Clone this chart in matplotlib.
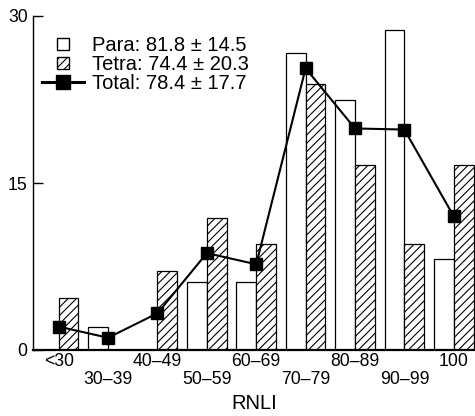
import numpy as np
import matplotlib
matplotlib.use("Agg")
import matplotlib.pyplot as plt
import matplotlib.patches as mpatches
from matplotlib.lines import Line2D
from matplotlib.legend_handler import HandlerPatch

plt.rcParams['font.family'] = ['Liberation Sans', 'DejaVu Sans']
plt.rcParams['hatch.linewidth'] = 0.8

categories = ['<30', '30–39', '40–49', '50–59', '60–69', '70–79', '80–89', '90–99', '100']
para = [0, 2.1, 0, 6.1, 6.1, 26.7, 22.5, 28.7, 8.2]
tetra = [4.7, 0, 7.1, 11.9, 9.5, 23.9, 16.6, 9.5, 16.6]
total = [2.1, 1.1, 3.3, 8.7, 7.7, 25.3, 19.9, 19.8, 12.0]
legend_labels = ['Para: 81.8 ± 14.5', 'Tetra: 74.4 ± 20.3', 'Total: 78.4 ± 17.7']
yticks = [0, 15, 30]
xlabel = 'RNLI'

fig = plt.figure(figsize=(4.75, 4.16), dpi=100)
ax = fig.add_axes([33/475, 66/416, 442/475, 334/416])

x = np.arange(len(categories))
w = 0.4
ax.bar(x - w, para, width=w, align='edge', facecolor='white', edgecolor='black', linewidth=0.9, zorder=2)
ax.bar(x, tetra, width=w, align='edge', facecolor='white', edgecolor='black', linewidth=0.9,
       hatch='////', zorder=2)
ax.plot(x, total, color='black', linewidth=1.5, marker='s', markersize=8, zorder=3)

ax.set_xlim(-0.52, 8.43)
ax.set_ylim(0, 30)
ax.set_yticks(yticks)
ax.tick_params(axis='y', direction='in', length=7.5, width=1, pad=3.9, labelsize=12.7)
ax.set_xticks(x)
labs = ax.set_xticklabels([c if i % 2 == 0 else '\n' + c for i, c in enumerate(categories)])
for t in labs:
    t.set_linespacing(1.1)
ax.tick_params(axis='x', length=0, pad=2, labelsize=12.7)
ax.set_xlabel(xlabel, fontsize=14.5, labelpad=4)

for s in ['top', 'right']:
    ax.spines[s].set_visible(False)
ax.spines['left'].set_linewidth(1.0)
ax.spines['bottom'].set_linewidth(1.6)


def square(legend, orig_handle, xdescent, ydescent, width, height, fontsize):
    s = 0.6 * fontsize
    return mpatches.Rectangle((-xdescent + (width - s) / 2, -ydescent + (height - s) / 2), s, s)


h_para = mpatches.Patch(facecolor='white', edgecolor='black', linewidth=1.0)
h_tetra = mpatches.Patch(facecolor='white', edgecolor='black', linewidth=1.0, hatch='////')
h_total = Line2D([], [], color='black', linewidth=2.2, marker='s', markersize=10)
ax.legend([h_para, h_tetra, h_total], legend_labels,
          handler_map={mpatches.Patch: HandlerPatch(patch_func=square)},
          loc='upper left', bbox_to_anchor=(0.02, 0.94), frameon=False,
          borderpad=0, borderaxespad=0, handlelength=2.07, handletextpad=0.42,
          labelspacing=0.0, fontsize=14.5)

fig.savefig('out.png', dpi=100)
